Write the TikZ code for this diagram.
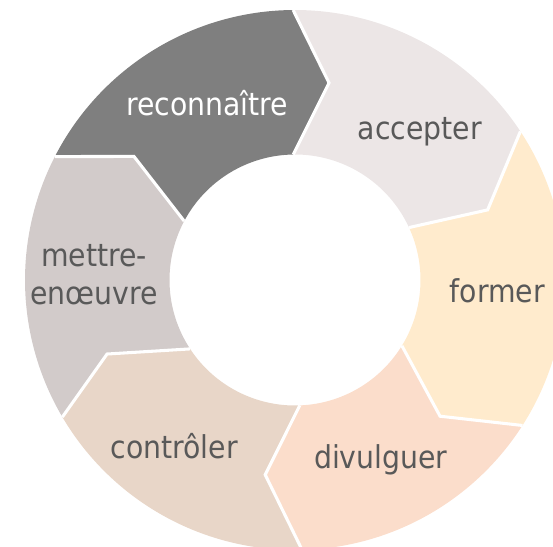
\documentclass[tikz,border=0pt]{standalone}
\usepackage{fontspec}
\setmainfont{DejaVu Sans Condensed}
\definecolor{recogray}{RGB}{127,127,127}
\definecolor{acceptgray}{RGB}{236,230,230}
\definecolor{formcream}{RGB}{255,235,205}
\definecolor{divpeach}{RGB}{251,221,203}
\definecolor{ctrlbeige}{RGB}{232,214,200}
\definecolor{mettregray}{RGB}{210,203,202}
\definecolor{txtgray}{RGB}{89,89,89}
\tikzset{
  gap/.style={draw=white, line width=2.3pt, line join=miter},
  lbl/.style={text=txtgray, font=\fontsize{23.6}{30}\selectfont, anchor=base, inner sep=0pt},
}

\begin{document}
\begin{tikzpicture}[x=0.75pt, y=0.75pt]
        \clip (-295,-266) rectangle (258,280);

        \coordinate (O1) at (90.4:270);
        \coordinate (T1) at (80.2:200);
        \coordinate (I1) at (90.8:125.5);
        \coordinate (O2) at (33.4:270);
        \coordinate (T2) at (20.0:205);
        \coordinate (I2) at (24.7:125.5);
        \coordinate (O3) at (-32.6:270);
        \coordinate (T3) at (-43.2:199);
        \coordinate (I3) at (-31.6:125.5);
        \coordinate (O4) at (-88.5:270);
        \coordinate (T4) at (-98.7:197);
        \coordinate (I4) at (-87.8:125.5);
        \coordinate (O5) at (-149.5:270);
        \coordinate (T5) at (-158.5:202);
        \coordinate (I5) at (-146.7:125.5);
        \coordinate (O6) at (152.8:270);
        \coordinate (T6) at (142.5:203);
        \coordinate (I6) at (152.0:125.5);

        \fill[recogray] (O6) arc[start angle=152.8, end angle=90.4, radius=270]
            -- (T1) -- (I1) arc[start angle=90.8, end angle=152.0, radius=125.5] -- (T6) -- cycle;
        \fill[acceptgray] (O1) arc[start angle=90.4, end angle=33.4, radius=270]
            -- (T2) -- (I2) arc[start angle=24.7, end angle=90.8, radius=125.5] -- (T1) -- cycle;
        \fill[formcream] (O2) arc[start angle=33.4, end angle=-32.6, radius=270]
            -- (T3) -- (I3) arc[start angle=-31.6, end angle=24.7, radius=125.5] -- (T2) -- cycle;
        \fill[divpeach] (O3) arc[start angle=-32.6, end angle=-88.5, radius=270]
            -- (T4) -- (I4) arc[start angle=-87.8, end angle=-31.6, radius=125.5] -- (T3) -- cycle;
        \fill[ctrlbeige] (O4) arc[start angle=-88.5, end angle=-149.5, radius=270]
            -- (T5) -- (I5) arc[start angle=-146.7, end angle=-87.8, radius=125.5] -- (T4) -- cycle;
        \fill[mettregray] (O5) arc[start angle=-149.5, end angle=-207.2, radius=270]
            -- (T6) -- (I6) arc[start angle=-208.0, end angle=-146.7, radius=125.5] -- (T5) -- cycle;

        \draw[gap] (O1) -- (T1) -- (I1);
        \draw[gap] (O2) -- (T2) -- (I2);
        \draw[gap] (O3) -- (T3) -- (I3);
        \draw[gap] (O4) -- (T4) -- (I4);
        \draw[gap] (O5) -- (T5) -- (I5);
        \draw[gap] (O6) -- (T6) -- (I6);

        \node[lbl, text=white] (reco) at (-88, 164.3) {reconnaître};
        \node[lbl] (accept) at (124.8, 140) {accepter};
        \node[lbl] (form) at (202.4, -22.6) {former};
        \node[lbl] (divul) at (85.8, -188.3) {divulguer};
        \node[lbl] (ctrl) at (-120.7, -178.6) {contrôler};
        \node[lbl] (mettre) at (-201, 13.3) {mettre-};
        \node[lbl] (oeuvre) at (-201, -25) {enœuvre};
    \end{tikzpicture}
\end{document}
